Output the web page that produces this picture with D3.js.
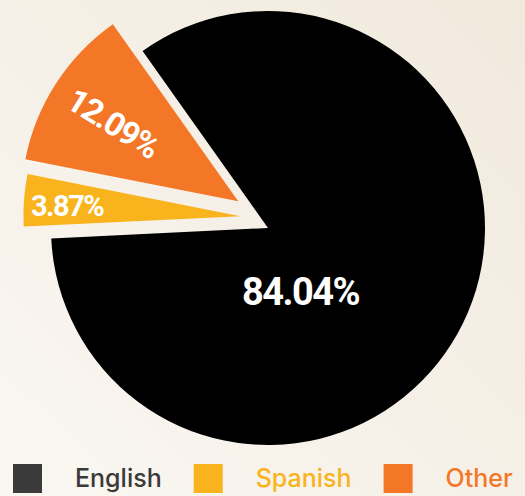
<!DOCTYPE html>
<html>
<head>
<meta charset="utf-8">
<script src="https://cdn.jsdelivr.net/npm/d3@7"></script>
<style>
  html, body { margin: 0; padding: 0; }
  body { width: 525px; height: 496px; overflow: hidden; }
  text { font-family: Inter, "Open Sans", sans-serif; }
  .lbl { font-family: Roboto, Inter, sans-serif; }
</style>
</head>
<body>
<div id="chart"></div>
<script>
// data
var languages = ["English", "Spanish", "Other"];
var shares = [84.04, 3.87, 12.09];
var sliceColors = ["#000000", "#f9b31c", "#f37726"];
var legendColors = ["#3a3a3a", "#f9b31c", "#f37726"];

// pulled-out slices: distance and a small turn from the mid angle (deg)
var pull = [{ d: 0, turn: 0 }, { d: 30, turn: 19 }, { d: 40, turn: 9 }];
// label placement relative to slice apex
var labelCfg = [
    { frac: 0.33, turn: 37, rotate: false, size: 38 },
    { frac: 0.80, turn: -1, rotate: false, size: 29 },
    { frac: 0.68, turn: -1, rotate: true, size: 33 }
];

var width = 525, height = 496,
    cx = 268, cy = 228, radius = 217;

var svg = d3.select("#chart").append("svg")
    .attr("width", width)
    .attr("height", height);

var defs = svg.append("defs");
var grad = defs.append("linearGradient")
    .attr("id", "bg")
    .attr("x1", "100%").attr("y1", "0%")
    .attr("x2", "0%").attr("y2", "100%");
grad.append("stop").attr("offset", "0%").attr("stop-color", "#f1e9dc");
grad.append("stop").attr("offset", "100%").attr("stop-color", "#faf7f2");

svg.append("rect")
    .attr("width", width)
    .attr("height", height)
    .attr("fill", "url(#bg)");

var rad = Math.PI / 180;
var start = -35.3 * rad;

var pie = d3.pie()
    .sort(null)
    .value(function(d) { return d; })
    .startAngle(start)
    .endAngle(start + 2 * Math.PI);

var arc = d3.arc()
    .innerRadius(0)
    .outerRadius(radius);

var arcs = pie(shares);

function polar(a, d) {
    return [d * Math.sin(a), -d * Math.cos(a)];
}

var g = svg.append("g")
    .attr("transform", "translate(" + cx + "," + cy + ")");

var slice = g.selectAll(".slice")
    .data(arcs)
    .enter().append("g")
    .attr("class", "slice")
    .attr("transform", function(d, i) {
        var mid = (d.startAngle + d.endAngle) / 2;
        var p = polar(mid + pull[i].turn * rad, pull[i].d);
        return "translate(" + p[0] + "," + p[1] + ")";
    });

slice.append("path")
    .attr("d", arc)
    .attr("fill", function(d, i) { return sliceColors[i]; });

slice.append("text")
    .attr("class", "lbl")
    .attr("transform", function(d, i) {
        var c = labelCfg[i];
        var mid = (d.startAngle + d.endAngle) / 2;
        var a = mid + c.turn * rad;
        var p = polar(a, radius * c.frac);
        var t = "translate(" + p[0] + "," + p[1] + ")";
        if (c.rotate) t += " rotate(" + (a / rad - 270) + ")";
        return t;
    })
    .attr("text-anchor", "middle")
    .attr("dominant-baseline", "central")
    .attr("fill", "#ffffff")
    .attr("font-weight", 700)
    .attr("letter-spacing", "-1.5px")
    .attr("font-size", function(d, i) { return labelCfg[i].size + "px"; })
    .text(function(d, i) { return shares[i].toFixed(2) + "%"; });

// legend
var legend = svg.append("g")
    .attr("transform", "translate(13,464)");

var x = 0;
languages.forEach(function(name, i) {
    var item = legend.append("g").attr("transform", "translate(" + x + ",0)");
    item.append("rect")
        .attr("width", 29)
        .attr("height", 29)
        .attr("fill", legendColors[i]);
    var t = item.append("text")
        .attr("x", 62)
        .attr("y", 23)
        .attr("font-size", "25px")
        .attr("font-weight", 500)
        .attr("fill", legendColors[i])
        .text(name);
    x += 62 + t.node().getComputedTextLength() + 32;
});
</script>
</body>
</html>
